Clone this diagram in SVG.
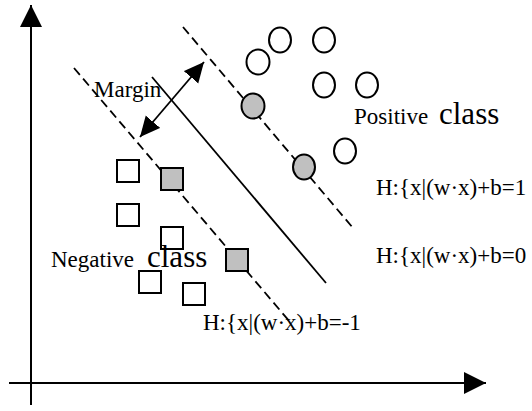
<svg xmlns="http://www.w3.org/2000/svg" width="532" height="411" viewBox="0 0 532 411">
<style>
.ax{stroke:#000;stroke-width:2;fill:none}
.ln{stroke:#000;stroke-width:1.8;fill:none}
.dash{stroke:#000;stroke-width:1.8;fill:none;stroke-dasharray:9 5}
.pt{stroke:#000;stroke-width:2;fill:#fff}
.sv{stroke:#000;stroke-width:2;fill:#c0c0c0}
text{font-family:"Liberation Serif","Times New Roman",serif;font-size:23px;fill:#000}
.big{font-size:31px}
</style>
<defs>
<marker id="ah" markerUnits="userSpaceOnUse" markerWidth="22" markerHeight="22" viewBox="0 0 20 20" refX="20" refY="10" orient="auto-start-reverse">
<path d="M0,0 L20,10 L0,20 Z" fill="#000"/>
</marker>
<marker id="mh" markerUnits="userSpaceOnUse" markerWidth="20" markerHeight="20" viewBox="0 0 20 20" refX="20" refY="10" orient="auto-start-reverse">
<path d="M0,0.5 L20,10 L0,19.5 Z" fill="#000"/>
</marker>
</defs>
<g id="connectors">
<line class="ax" x1="31" y1="405" x2="31" y2="5" marker-end="url(#ah)"/>
<line class="ax" x1="9" y1="383" x2="486" y2="383" marker-end="url(#ah)"/>
<line class="dash" x1="183" y1="27" x2="353" y2="228"/>
<line class="dash" x1="74" y1="68" x2="290" y2="322"/>
<line class="ln" x1="152" y1="77" x2="326" y2="283"/>
<line class="ln" x1="140" y1="137" x2="204" y2="62" marker-start="url(#mh)" marker-end="url(#mh)"/>
</g>
<g id="positive">
<ellipse id="p1" class="pt" cx="258" cy="62" rx="11.5" ry="12.5"/>
<ellipse id="p2" class="pt" cx="280" cy="40" rx="11" ry="12.5"/>
<ellipse id="p3" class="pt" cx="324" cy="40" rx="11" ry="12.5"/>
<ellipse id="p4" class="pt" cx="324" cy="85" rx="11" ry="12.5"/>
<ellipse id="p5" class="pt" cx="367" cy="85" rx="11" ry="12.5"/>
<ellipse id="p6" class="pt" cx="345" cy="151" rx="11" ry="12.5"/>
<ellipse id="sv1" class="sv" cx="253" cy="106" rx="11.5" ry="12.5"/>
<ellipse id="sv2" class="sv" cx="304" cy="167" rx="11" ry="12.5"/>
</g>
<g id="negative">
<rect id="n1" class="pt" x="117" y="160" width="22" height="22"/>
<rect id="n2" class="pt" x="117" y="204" width="22" height="22"/>
<rect id="n3" class="pt" x="161" y="227" width="22" height="22"/>
<rect id="n4" class="pt" x="139" y="271" width="22" height="22"/>
<rect id="n5" class="pt" x="183" y="283" width="22" height="22"/>
<rect id="sv3" class="sv" x="161" y="168" width="22" height="22"/>
<rect id="sv4" class="sv" x="226" y="249" width="22" height="22"/>
</g>
<g id="labels">
<text x="94" y="97">Margin</text>
<text x="354" y="124">Positive<tspan class="big" x="439">class</tspan></text>
<text x="51" y="267">Negative<tspan class="big" x="147">class</tspan></text>
<text x="376" y="195">H:{x|(w·x)+b=1</text>
<text x="376" y="263">H:{x|(w·x)+b=0</text>
<text x="203" y="330">H:{x|(w·x)+b=-1</text>
</g>
</svg>
